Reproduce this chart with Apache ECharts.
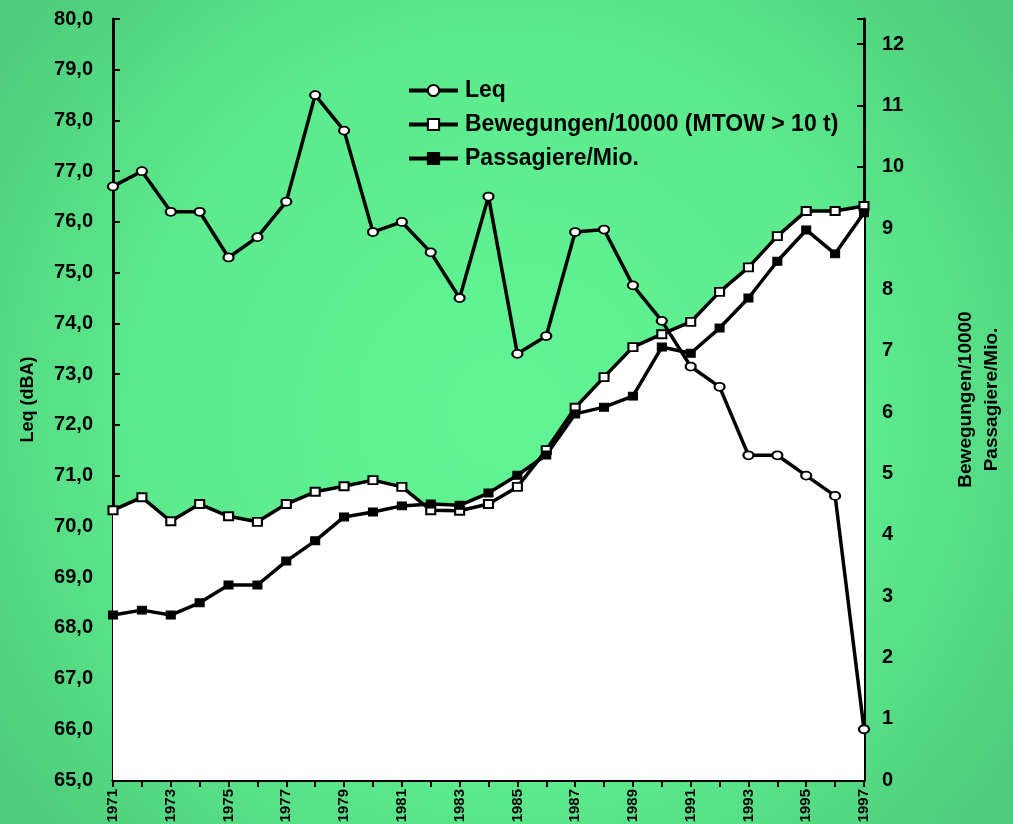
<!DOCTYPE html>
<html>
<head>
<meta charset="utf-8">
<script src="https://cdn.jsdelivr.net/npm/echarts@6/dist/echarts.min.js"></script>
<style>html,body{margin:0;padding:0;}#c{width:1013px;height:824px;}</style>
</head>
<body>
<div id="c"></div>
<script>
const years = ['1971','1972','1973','1974','1975','1976','1977','1978','1979','1980','1981','1982','1983','1984','1985','1986','1987','1988','1989','1990','1991','1992','1993','1994','1995','1996','1997'];
const leq = [76.7,77.0,76.2,76.2,75.3,75.7,76.4,78.5,77.8,75.8,76.0,75.4,74.5,76.5,73.4,73.75,75.8,75.85,74.75,74.05,73.15,72.75,71.4,71.4,71.0,70.6,66.0];
const bewegungen = [4.40,4.61,4.22,4.50,4.30,4.21,4.50,4.70,4.79,4.89,4.78,4.40,4.39,4.50,4.78,5.38,6.07,6.57,7.06,7.27,7.47,7.96,8.36,8.87,9.28,9.28,9.36];
const passagiere = [2.69,2.77,2.69,2.89,3.18,3.18,3.57,3.90,4.29,4.37,4.47,4.50,4.48,4.68,4.97,5.30,5.97,6.08,6.26,7.06,6.96,7.37,7.86,8.46,8.97,8.58,9.25];
const leftName = 'Leq (dBA)';
const rightName = 'Bewegungen/10000\nPassagiere/Mio.';
const seriesNames = ['Leq','Bewegungen/10000 (MTOW > 10 t)','Passagiere/Mio.'];

const FONT = '"Liberation Sans", Arial, sans-serif';
const chart = echarts.init(document.getElementById('c'));
const tickStyle = {color:'#000', width:2};
const lineW = 3.5;
chart.setOption({
  animation:false,
  backgroundColor:{type:'radial',x:0.5,y:0.5,r:0.75,colorStops:[{offset:0,color:'#62f594'},{offset:0.6,color:'#5cea8c'},{offset:1,color:'#4ecd7c'}]},
  grid:{left:113, right:149, top:19, bottom:44, outerBoundsMode:'none', containLabel:false},
  legend:{
    data:seriesNames, orient:'vertical', left:402, top:74, itemWidth:49, itemHeight:14, itemGap:11,
    lineStyle:{width:4},
    textStyle:{fontFamily:FONT, fontWeight:'bold', fontSize:23, color:'#000', padding:[0,0,0,2]}
  },
  xAxis:[
    {type:'category', data:years, boundaryGap:false,
     axisLine:{lineStyle:{color:'#000',width:3}},
     axisTick:{interval:0, length:7, lineStyle:tickStyle},
     axisLabel:{interval:1, rotate:90, margin:9, fontFamily:FONT, fontWeight:'bold', fontSize:15, color:'#000'}},
    {type:'category', data:years, boundaryGap:false, position:'bottom',
     axisLine:{show:false}, axisTick:{interval:0, inside:true, length:5, lineStyle:tickStyle}, axisLabel:{show:false}}
  ],
  yAxis:[
    {type:'value', min:65, max:80, interval:1, position:'left',
     name:leftName, nameLocation:'middle', nameGap:76, nameRotate:90,
     nameTextStyle:{fontFamily:FONT, fontWeight:'bold', fontSize:18, color:'#000'},
     axisLine:{show:true, lineStyle:{color:'#000',width:3}},
     axisTick:{length:8, lineStyle:tickStyle}, splitLine:{show:false},
     axisLabel:{margin:20, fontFamily:FONT, fontWeight:'bold', fontSize:20, color:'#000',
       formatter:v=>v.toFixed(1).replace('.',',')}},
    {type:'value', min:0, max:12.41, interval:1, position:'right',
     name:rightName, nameLocation:'middle', nameGap:89, nameRotate:90,
     nameTextStyle:{fontFamily:FONT, fontWeight:'bold', fontSize:19, color:'#000', lineHeight:26},
     axisLine:{show:true, lineStyle:{color:'#000',width:3}},
     axisTick:{length:8, lineStyle:tickStyle}, splitLine:{show:false},
     axisLabel:{margin:18, fontFamily:FONT, fontWeight:'bold', fontSize:20, color:'#000', showMaxLabel:false,
       formatter:v=>(Math.abs(v-Math.round(v))<1e-6 ? String(Math.round(v)) : '')}},
    {type:'value', min:65, max:80, interval:1, position:'left',
     axisLine:{show:false}, axisTick:{show:true, inside:true, length:7, lineStyle:tickStyle}, axisLabel:{show:false}, splitLine:{show:false}},
    {type:'value', min:0, max:12.41, interval:1, position:'right',
     axisLine:{show:false}, axisTick:{show:true, inside:true, length:7, lineStyle:tickStyle}, axisLabel:{show:false, showMaxLabel:false}, splitLine:{show:false}}
  ],
  series:[
    {name:'fillB', type:'line', yAxisIndex:1, data:bewegungen, symbol:'none', silent:true, z:1,
     lineStyle:{width:0}, areaStyle:{color:'#ffffff', opacity:1, origin:'start'}},
    {name:'fillP', type:'line', yAxisIndex:1, data:passagiere, symbol:'none', silent:true, z:1,
     lineStyle:{width:0}, areaStyle:{color:'#ffffff', opacity:1, origin:'start'}},
    {name:seriesNames[1], type:'line', yAxisIndex:1, data:bewegungen, z:3,
     symbol:'rect', symbolSize:[9,8], itemStyle:{color:'#ffffff', borderColor:'#000', borderWidth:2},
     lineStyle:{color:'#000', width:lineW}},
    {name:seriesNames[2], type:'line', yAxisIndex:1, data:passagiere, z:3,
     symbol:'rect', symbolSize:[9,8], itemStyle:{color:'#000', borderColor:'#000', borderWidth:1},
     lineStyle:{color:'#000', width:lineW}},
    {name:seriesNames[0], type:'line', yAxisIndex:0, data:leq, z:4,
     symbol:'circle', symbolSize:[10,8], itemStyle:{color:'#ffffff', borderColor:'#000', borderWidth:2},
     lineStyle:{color:'#000', width:lineW}}
  ]
});
</script>
</body>
</html>
